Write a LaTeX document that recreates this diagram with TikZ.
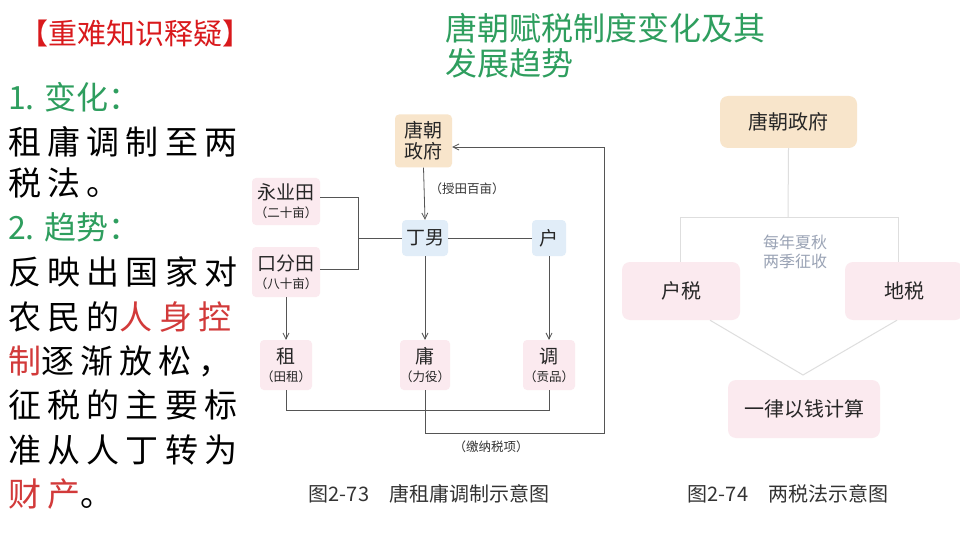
\documentclass[tikz,border=0pt]{standalone}
\usepackage{fontspec}
\setmainfont{Noto Sans CJK SC}
\usetikzlibrary{arrows.meta}
\definecolor{tred}{HTML}{D9191C}
\definecolor{kred}{HTML}{D23A3A}
\definecolor{tgreen}{HTML}{2E9E5E}
\definecolor{lnc}{HTML}{555555}
\definecolor{pinkf}{HTML}{FBEAEF}
\definecolor{bluef}{HTML}{E1EDF8}
\definecolor{peachf}{HTML}{F8E5CB}
\definecolor{lightln}{HTML}{DEDEDE}
\definecolor{softtxt}{HTML}{9AA3B5}
\begin{document}
\begin{tikzpicture}[x=1pt,y=-1pt,
  lefttxt/.style={anchor=west,inner sep=0pt,font=\fontsize{33}{36}\selectfont\addfontfeatures{LetterSpace=19}},
  greentxt/.style={anchor=west,inner sep=0pt,text=tgreen,font=\fontsize{32}{36}\selectfont},
  mbox/.style={rounded corners=4pt,inner sep=0pt,align=center,text=black!85,font=\fontsize{19}{21}\selectfont},
  pbox/.style={mbox,fill=pinkf},
  bbox/.style={mbox,fill=bluef},
  obox/.style={mbox,fill=peachf},
  ln/.style={draw=lnc,line width=0.8pt},
  arr/.style={ln,-{Straight Barb[length=6pt,width=6pt]}},
  small/.style={inner sep=0pt,text=black!80,font=\fontsize{12.5}{14}\selectfont},
  caption/.style={inner sep=0pt,text=black!80,font=\fontsize{20}{22}\selectfont},
  rbox/.style={rounded corners=8pt,inner sep=0pt,text=black!85,font=\fontsize{20}{22}\selectfont},
  rln/.style={draw=lightln,line width=1pt}
]
\useasboundingbox (0,0) rectangle (960,540);
\fill[white] (0,0) rectangle (960,540);

% ---------- left column ----------
\node[anchor=west,inner sep=0pt,text=tred,font=\fontsize{29}{32}\selectfont] (hdr) at (19,33) {【重难知识释疑】};
\node[greentxt] (g1) at (8,97) {1. 变化：};
\node[lefttxt] (l1) at (8,142) {租庸调制至两};
\node[lefttxt] (l2) at (8,183) {税法。};
\node[greentxt] (g2) at (8,227) {2. 趋势：};
\node[lefttxt] (l3) at (8,272) {反映出国家对};
\node[lefttxt] (l4) at (8,317) {农民的\textcolor{kred}{人身控}};
\node[lefttxt] (l5) at (8,361) {\textcolor{kred}{制}逐渐放松，};
\node[lefttxt] (l6) at (8,405) {征税的主要标};
\node[lefttxt] (l7) at (8,450) {准从人丁转为};
\node[lefttxt] (l8) at (8,494) {\textcolor{kred}{财产}。};

% ---------- title ----------
\node[anchor=west,inner sep=0pt,text=tgreen,font=\fontsize{32}{36}\selectfont] (t1) at (445,28) {唐朝赋税制度变化及其};
\node[anchor=west,inner sep=0pt,text=tgreen,font=\fontsize{32}{36}\selectfont] (t2) at (445,63) {发展趋势};

% ---------- figure 2-73 ----------
\node[obox,minimum width=57pt,minimum height=53pt] (gov) at (423.5,141) {唐朝\\政府};
\node[pbox,minimum width=68pt,minimum height=47pt] (yy) at (286,201.5) {永业田\\[-3pt]{\fontsize{12.5}{14}\selectfont （二十亩）}};
\node[pbox,minimum width=68pt,minimum height=50pt] (kf) at (286,272) {口分田\\[-3pt]{\fontsize{12.5}{14}\selectfont （八十亩）}};
\node[bbox,minimum width=46pt,minimum height=36pt] (dn) at (425,238) {丁男};
\node[bbox,minimum width=34pt,minimum height=36pt] (hu) at (549,238) {户};
\node[pbox,minimum width=52pt,minimum height=50pt] (zu) at (286,365) {租\\[-3pt]{\fontsize{12.5}{14}\selectfont （田租）}};
\node[pbox,minimum width=50pt,minimum height=50pt] (yong) at (425,365) {庸\\[-3pt]{\fontsize{12.5}{14}\selectfont （力役）}};
\node[pbox,minimum width=52pt,minimum height=50pt] (tiao) at (549,365) {调\\[-3pt]{\fontsize{12.5}{14}\selectfont （贡品）}};

\coordinate (jn) at (358,238);
\draw[ln] (yy.east |- 0,197) -- (358,197) -- (358,269) -- (kf.east |- 0,269);
\draw[ln] (jn) -- (dn.west);
\draw[ln] (dn.east) -- (hu.west);
\draw[arr] (gov.south) -- node[right=5pt,small,pos=0.4] (shou) {（授田百亩）} (dn.north);
\draw[arr] (kf.south) -- (zu.north);
\draw[arr] (dn.south) -- (yong.north);
\draw[arr] (hu.south) -- (tiao.north);
\draw[ln] (zu.south) -- (286,410) -- (549,410) -- (tiao.south);
\draw[arr] (yong.south) -- (425,433) -- (604,433) -- (604,147) -- (gov.east |- 0,147);
\node[small] (jiao) at (491,447) {（缴纳税项）};
\node[caption] (cap1) at (429,494) {图2-73\quad 唐租庸调制示意图};

% ---------- figure 2-74 ----------
\node[rbox,fill=peachf,minimum width=137pt,minimum height=52pt] (gov2) at (788.5,122) {唐朝政府};
\node[rbox,fill=pinkf,minimum width=118pt,minimum height=58pt] (hs) at (681,291) {户税};
\node[rbox,fill=pinkf,minimum width=118pt,minimum height=58pt] (ds) at (904,291) {地税};
\node[rbox,fill=pinkf,minimum width=152pt,minimum height=58pt] (yl) at (804,409) {一律以钱计算};
\coordinate (mid) at (788,217);
\draw[rln] (gov2.south) -- (mid);
\draw[rln] (680,217) -- (898,217);
\draw[rln] (680,217) -- (hs.north -| 680,0);
\draw[rln] (898,217) -- (ds.north -| 898,0);
\coordinate (cv) at (803,375);
\draw[rln] (hs.south -| 710,0) -- (cv) -- (ds.south -| 897,0);
\node[inner sep=0pt,align=center,text=softtxt,font=\fontsize{16}{19}\selectfont] (jz) at (795,252) {每年夏秋\\两季征收};
\node[caption] (cap2) at (788,494) {图2-74\quad 两税法示意图};
\end{tikzpicture}
\end{document}
